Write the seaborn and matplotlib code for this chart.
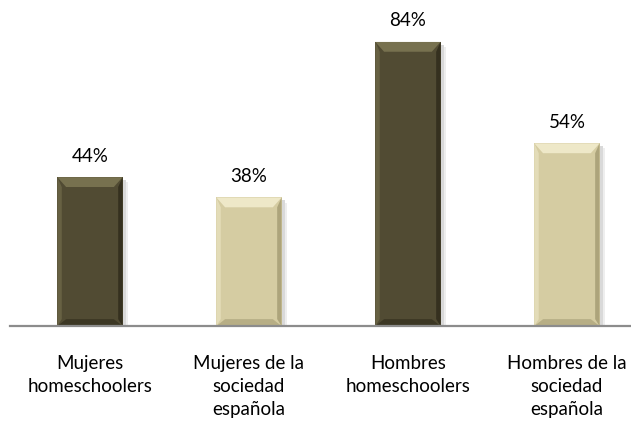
import matplotlib
matplotlib.use("Agg")
import matplotlib.pyplot as plt
import seaborn as sns
import pandas as pd
from matplotlib.patches import Polygon, Rectangle

categorias = ["Mujeres\nhomeschoolers", "Mujeres de la\nsociedad\nespañola",
              "Hombres\nhomeschoolers", "Hombres de la\nsociedad\nespañola"]
valores = [44, 38, 84, 54]
colores = ["#514b33", "#d5cca2", "#514b33", "#d5cca2"]
claros = ["#77714f", "#eee8c8", "#77714f", "#eee8c8"]
oscuros = ["#2e2a1a", "#a39b72", "#2e2a1a", "#a39b72"]

df = pd.DataFrame({"cat": categorias, "val": valores})

sns.set_theme(style="white")
plt.rcParams["font.family"] = ["Lato", "DejaVu Sans"]

fig = plt.figure(figsize=(6.31, 4.27), dpi=100)
ax = fig.add_axes([10 / 631, 100 / 427, 621 / 631, 327 / 427])
sns.barplot(data=df, x="cat", y="val", hue="cat", palette=colores,
            width=0.41, legend=False, ax=ax, saturation=1)

ax.set_xlim(-0.503, 3.403)
ax.set_ylim(0, 96.7)

# bevel effect and soft shadow
bx = 0.055
by = 2.9
for p, c, cl, co, v in zip(ax.patches, colores, claros, oscuros, valores):
    x0, w, h = p.get_x(), p.get_width(), p.get_height()
    x1 = x0 + w
    p.set_edgecolor("none")
    p.set_zorder(3)
    ax.add_patch(Rectangle((x1, 0), 0.02, h - 0.8, color="#d9d9d9", zorder=2, lw=0))
    ax.add_patch(Rectangle((x1 + 0.02, 0), 0.015, h - 1.5, color="#eeeeee", zorder=2, lw=0))
    ax.add_patch(Polygon([(x0, h), (x1, h), (x1 - bx, h - by), (x0 + bx, h - by)],
                         closed=True, color=cl, zorder=4, lw=0))
    ax.add_patch(Polygon([(x0, 0), (x1, 0), (x1 - bx, by * 0.7), (x0 + bx, by * 0.7)],
                         closed=True, color=co, zorder=4, lw=0, alpha=0.6))
    ax.add_patch(Polygon([(x0, 0), (x0, h), (x0 + bx * 0.5, h - by), (x0 + bx * 0.5, by * 0.7)],
                         closed=True, color=cl, zorder=4, lw=0, alpha=0.6))
    ax.add_patch(Polygon([(x1, 0), (x1, h), (x1 - bx * 0.5, h - by), (x1 - bx * 0.5, by * 0.7)],
                         closed=True, color=co, zorder=4, lw=0, alpha=0.8))
    ax.text(x0 + w / 2, h + 4.0, f"{v}%", ha="center", va="bottom", fontsize=13.5,
            color="#000000")

for s in ["top", "right", "left"]:
    ax.spines[s].set_visible(False)
ax.spines["bottom"].set_color("#8c8c8c")
ax.spines["bottom"].set_linewidth(1.6)
ax.spines["bottom"].set_zorder(5)

ax.set_yticks([])
ax.set_xlabel("")
ax.set_ylabel("")
ax.tick_params(axis="x", length=0, pad=20, labelsize=13.5, colors="#000000")
for t in ax.get_xticklabels():
    t.set_linespacing(1.42)
    t.set_va("top")

plt.savefig("out.png", dpi=100)
